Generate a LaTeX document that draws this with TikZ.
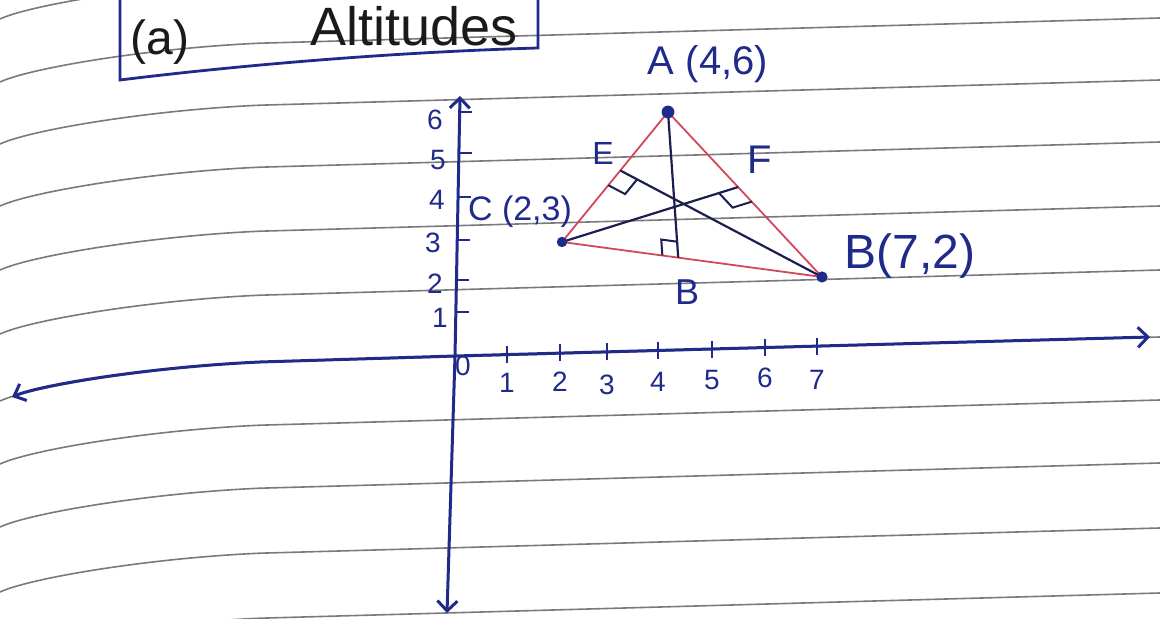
\documentclass[tikz,border=0pt]{standalone}
\usepackage{fontspec}
\setmainfont{Liberation Sans}
\usetikzlibrary{calc,arrows.meta}
\definecolor{ink}{HTML}{1F2A8A}
\definecolor{pencil}{HTML}{1A1A1A}
\definecolor{redline}{HTML}{D4475A}
\definecolor{altcol}{HTML}{1B1F4F}
\definecolor{rulecol}{HTML}{7A7A7A}
\begin{document}
\begin{tikzpicture}[x=0.5pt,y=-0.5pt,
  ruled/.style={rulecol, line width=0.8pt},
  axisline/.style={ink, line width=1.5pt},
  tickline/.style={ink, line width=1.1pt},
  side/.style={redline, line width=0.9pt},
  altline/.style={altcol, line width=1.1pt},
  marker/.style={altcol, line width=1pt},
  lbl/.style={ink, inner sep=0pt},
  num/.style={ink, inner sep=0pt, font=\fontsize{14}{16}\selectfont},
  dot/.style={ink}]
\useasboundingbox (0,0) rectangle (1160,619);
\fill[white] (0,0) rectangle (1160,619);
% ruled notebook lines
\foreach \r in {-45,18,80,142,206,270,337,400,463,528,593}
  \draw[ruled] (0,\r+64) .. controls (30,\r+50) and (150,\r+30) .. (260,\r+25.2) -- (1160,\r);
% title box
\draw[ink, line width=1.4pt] (120,0) -- (120,80) .. controls (250,64) and (400,52) .. (538,48) -- (538,0);
\node[pencil, inner sep=0pt, font=\fontsize{24}{28}\selectfont] (ta) at (160,42) {(a)};
\node[pencil, inner sep=0pt, font=\fontsize{27}{30}\selectfont] (tt) at (414,26) {Altitudes};
% axes
\coordinate (O) at (455,356);
\coordinate (ytop) at (460,96);
\coordinate (ybot) at (447,613);
\coordinate (xl) at (12,397);
\coordinate (xr) at (1150,337);
\draw[axisline, {Straight Barb[length=5pt,width=10pt]}-{Straight Barb[length=5pt,width=10pt]}] (ybot) -- (O) -- (ytop);
\draw[axisline, {Straight Barb[length=5pt,width=9pt]}-{Straight Barb[length=5pt,width=10pt]}] (xl) .. controls (40,385) and (150,367) .. (260,362) -- (O) -- (xr);
% y ticks
\foreach \yy/\xx/\lab/\ly/\lx in {153/458.9/5/160/438, 197/458/4/200/437, 240/457.2/3/243/433, 280/456.4/2/284/435, 312/455.8/1/318/440} {
  \draw[tickline] (\xx,\yy) -- (\xx+13,\yy);
  \node[num] at (\lx,\ly) {\lab};
}
\draw[tickline] (459.5,112) -- (472,112);
\node[num] (y6) at (435,120) {6};
% x ticks
\foreach \xx/\yy/\lab/\ly in {507/354.6/1/383, 560/353.3/2/382, 607/352.2/3/385, 658/350.9/4/382, 712/349.6/5/380, 765/348.3/6/378, 817/347/7/380} {
  \draw[tickline] (\xx,\yy-9) -- (\xx,\yy+8);
  \node[num] at (\xx,\ly) {\lab};
}
\node[num] (zero) at (463,366) {0};
% triangle
\coordinate (A) at (668,112);
\coordinate (C) at (562,242);
\coordinate (B) at (822,277);
\coordinate (D) at ($(C)!0.447!(B)$);
\coordinate (E) at ($(A)!0.45!(C)$);
\coordinate (F) at ($(A)!0.455!(B)$);
\draw[side] (A) -- (C) -- (B) -- cycle;
\draw[altline] (A) -- (D);
\draw[altline] (B) -- (E);
\draw[altline] (C) -- (F);
% right-angle markers
\coordinate (d1) at ($(D)!8pt!(C)$);
\coordinate (d2) at ($(D)!8pt!(A)$);
\draw[marker] (d1) -- ($(d1)+(d2)-(D)$) -- (d2);
\coordinate (e1) at ($(E)!9.5pt!(C)$);
\coordinate (e2) at ($(E)!9.5pt!(B)$);
\draw[marker] (e1) -- ($(e1)+(e2)-(E)$) -- (e2);
\coordinate (f1) at ($(F)!10pt!(C)$);
\coordinate (f2) at ($(F)!10pt!(B)$);
\draw[marker] (f1) -- ($(f1)+(f2)-(F)$) -- (f2);
% vertices
\fill[dot] (A) circle (3.2pt);
\fill[dot] (C) circle (2.6pt);
\fill[dot] (B) circle (2.8pt);
% labels
\node[lbl, font=\fontsize{20}{24}\selectfont] (la) at (708,64) {A (4,6)};
\node[lbl, font=\fontsize{17}{20}\selectfont] (lc) at (520,212) {C (2,3)};
\node[lbl, font=\fontsize{24}{28}\selectfont] (lb) at (910,256) {B(7,2)};
\node[lbl, font=\fontsize{16}{18}\selectfont] (le) at (603,153) {E};
\node[lbl, font=\fontsize{20}{22}\selectfont] (lf) at (760,160) {F};
\node[lbl, font=\fontsize{18}{20}\selectfont] (ld) at (687,292) {B};
\end{tikzpicture}
\end{document}
